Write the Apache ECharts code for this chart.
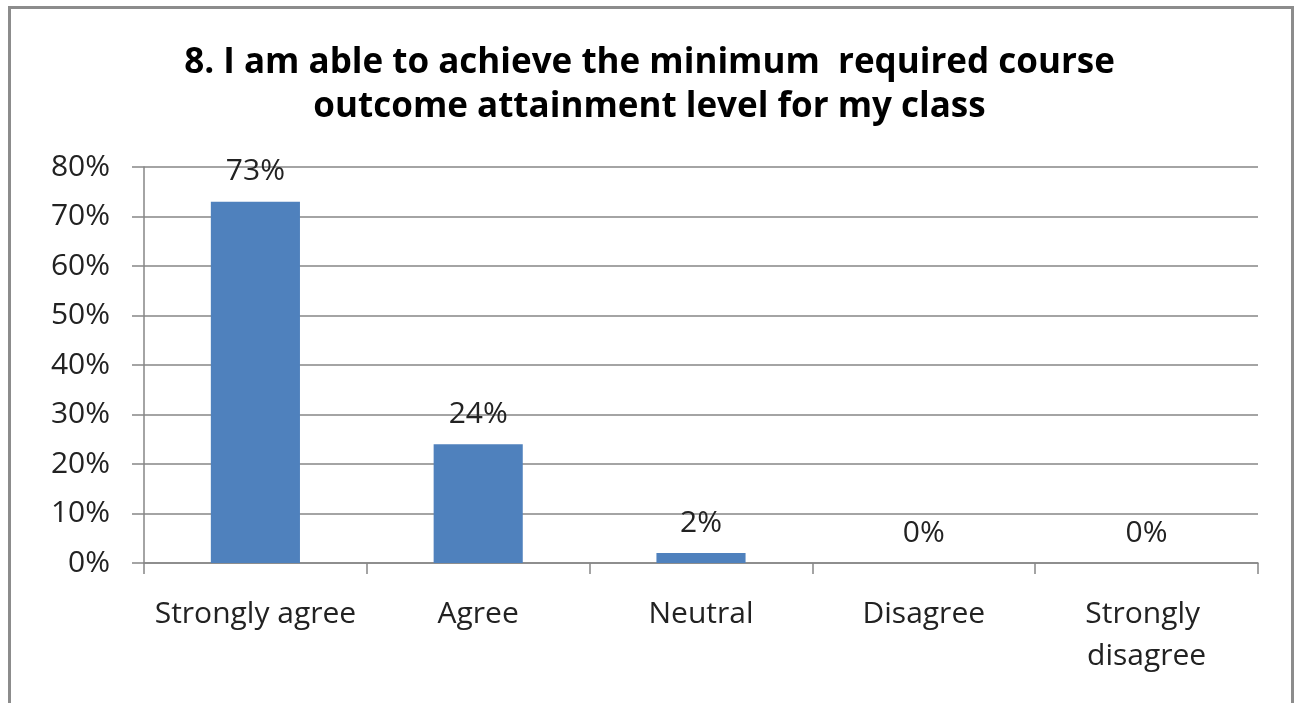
<!DOCTYPE html>
<html>
<head>
<meta charset="utf-8">
<script src="https://cdn.jsdelivr.net/npm/echarts@6/dist/echarts.min.js"></script>
<style>
html,body{margin:0;padding:0;background:#fff;}
#frame{position:absolute;left:8px;top:6px;width:1286px;height:720px;border:3px solid #8c8c8c;box-sizing:border-box;}
#chart{position:absolute;left:0;top:0;width:1299px;height:703px;}
</style>
</head>
<body>
<div id="frame"></div>
<div id="chart"></div>
<script>
const titleText = "8. I am able to achieve the minimum  required course\noutcome attainment level for my class";
const categories = ["Strongly agree", "Agree", "Neutral", "Disagree", "Strongly disagree"];
const values = [73, 24, 2, 0, 0];
const yTicks = [0, 10, 20, 30, 40, 50, 60, 70, 80];

const FONT = "'Open Sans', sans-serif";
const chart = echarts.init(document.getElementById('chart'));
chart.setOption({
  backgroundColor: 'transparent',
  animation: false,
  title: {
    text: titleText,
    left: 'center',
    top: 36,
    textStyle: { fontFamily: FONT, fontSize: 35, fontWeight: 'bold', color: '#000', lineHeight: 44 }
  },
  grid: { left: 144, right: 41, top: 167, bottom: 140, containLabel: false },
  xAxis: {
    type: 'category',
    data: categories,
    axisLine: { lineStyle: { color: '#868686', width: 1.5 } },
    axisTick: { show: true, length: 11, alignWithLabel: false, lineStyle: { color: '#868686', width: 1.5 } },
    axisLabel: {
      interval: 0, margin: 30, fontFamily: FONT, fontSize: 30, color: '#222', lineHeight: 42,
      width: 218, overflow: 'break'
    }
  },
  yAxis: {
    type: 'value',
    min: yTicks[0], max: yTicks[yTicks.length - 1], interval: 10,
    axisLine: { show: true, lineStyle: { color: '#868686', width: 1.5 } },
    axisTick: { show: true, length: 12, lineStyle: { color: '#868686', width: 1.5 } },
    splitLine: { lineStyle: { color: '#868686', width: 1.5 } },
    axisLabel: { margin: 34, fontFamily: FONT, fontSize: 30, color: '#222', formatter: v => v + '%' }
  },
  series: [{
    type: 'bar',
    data: values,
    barWidth: '40%',
    itemStyle: { color: '#4F81BD' },
    label: {
      show: true, position: 'top', distance: 15,
      fontFamily: FONT, fontSize: 30, color: '#222',
      formatter: p => p.value + '%'
    }
  }]
});
</script>
</body>
</html>
